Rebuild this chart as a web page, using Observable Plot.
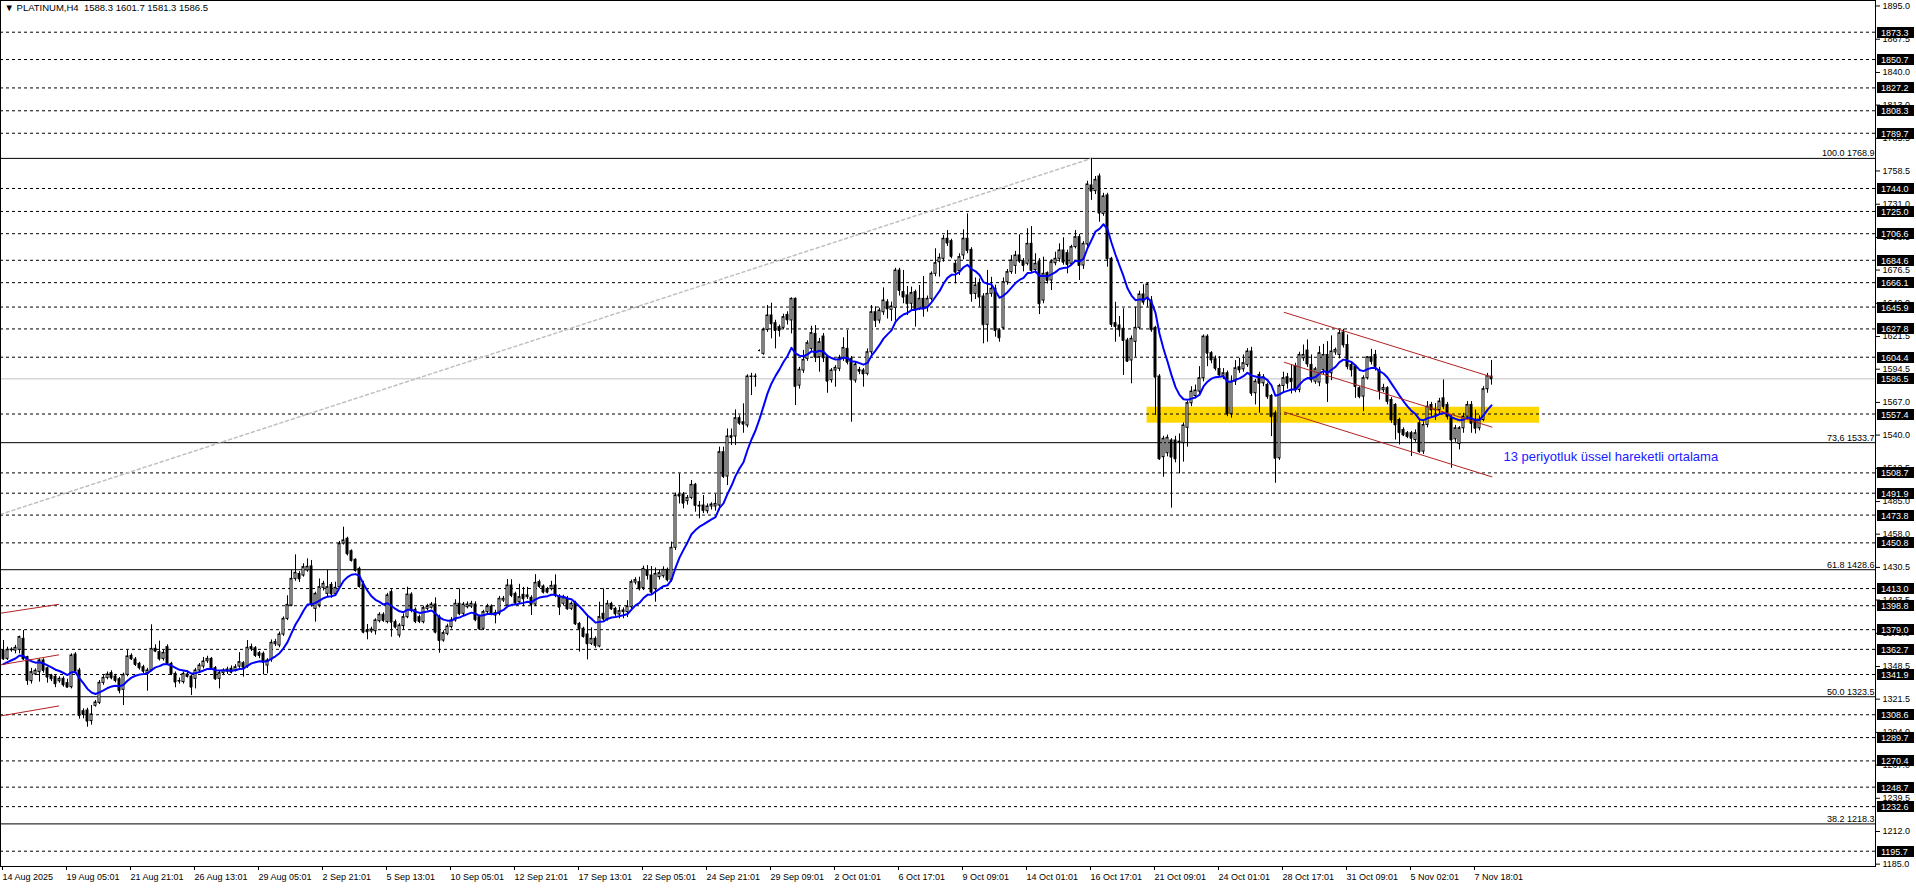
<!DOCTYPE html>
<html><head><meta charset="utf-8">
<script src="https://cdn.jsdelivr.net/npm/d3@7"></script>
<script src="https://cdn.jsdelivr.net/npm/@observablehq/plot@0.6"></script>
<style>
html,body{margin:0;padding:0;background:#fff;overflow:hidden}
#chart svg{display:block}
</style></head><body><div id="chart"></div>
<script>
// ---- data (H4 bars, index 0 = first visible bar) ----
const symbol = "PLATINUM,H4";
const opens = [
1361.7,1354.8,1362.0,1361.7,1362.3,1371.4,1356.2,1336.4,1342.0,1343.8,
1353.5,1347.0,1341.0,1340.0,1336.3,1338.3,1334.7,1331.4,1358.4,1345.2,
1311.5,1312.1,1303.3,1316.0,1318.4,1335.0,1339.1,1343.0,1340.2,1338.0,
1329.2,1341.6,1357.3,1354.3,1350.7,1347.9,1343.0,1345.2,1363.1,1360.4,
1354.8,1364.5,1350.7,1342.4,1336.3,1335.6,1341.9,1340.2,1338.3,1345.2,
1348.5,1352.9,1354.8,1347.1,1338.3,1343.0,1344.3,1346.6,1345.2,1348.5,
1351.2,1348.5,1364.5,1363.6,1359.5,1359.0,1349.3,1354.0,1367.0,1365.9,
1375.0,1387.9,1399.0,1421.0,1425.0,
1423.8,1428.0,1431.3,1396.2,1399.0,1413.6,1408.6,1416.0,1408.6,1414.1,
1450.2,1454.2,1443.9,1436.8,1429.3,1416.4,1378.3,1377.5,1377.7,1386.0,
1391.3,1385.2,1410.0,1385.2,1374.2,1381.9,1389.3,1408.0,1395.4,1389.3,
1385.2,1396.2,1397.1,1399.8,1389.3,1370.0,1375.5,1381.1,1386.6,1400.4,
1392.1,1397.6,1398.1,1399.8,1389.3,1379.7,1393.5,1398.1,1390.7,1392.1,
1403.1,1399.0,1415.5,1408.6,1401.7,1407.8,1405.9,1405.3,1399.8,1418.3,
1414.7,1412.5,1412.5,1415.5,1406.4,1400.4,1404.5,1396.2,1401.0,1383.8,
1379.7,1375.0,1367.3,1371.4,1365.1,
1392.1,1387.9,1400.3,1396.2,1391.5,1393.5,1393.5,1397.6,1418.0,1418.3,
1413.4,1427.9,1423.8,1412.5,1422.4,1423.2,1428.5,1420.2,1446.7,1490.3,
1490.8,1485.3,1488.0,1498.8,1481.0,1481.7,1477.0,1480.9,1480.9,1481.7,
1525.8,1505.7,1539.0,1538.8,1553.9,1550.6,1547.9,1588.0,1588.0,1609.9,
1607.2,1627.0,1638.9,1632.5,1629.2,1628.7,1639.4,1634.8,1652.7,1580.9,
1593.4,1603.0,1611.3,1623.7,1604.4,1621.5,1604.4,1585.4,1593.4,1594.8,
1603.1,1611.3,1603.1,1585.1,1593.9,1593.4,1590.6,1608.5,1641.6,1634.7,
1641.6,1649.9,1643.6,1645.2,1676.1,
1658.2,1655.5,1648.6,1658.2,1644.4,1652.7,1645.8,1652.7,1673.4,1683.0,
1685.8,1702.4,1700.4,1681.7,1675.7,1688.6,1702.4,1693.2,1656.8,1665.7,
1654.6,1631.2,1656.8,1661.0,1626.5,1628.7,1666.5,1674.8,1680.0,1688.6,
1683.9,1681.7,1698.2,1676.6,1683.0,1651.3,1673.9,1667.9,1682.2,1685.8,
1692.7,1690.5,1681.7,1695.5,1703.7,1680.3,1697.7,1746.5,1741.8,1753.9,
1723.0,1738.2,1685.8,1632.6,1630.6,1627.9,1618.2,1601.7,1617.1,1628.7,
1656.3,1653.5,1651.3,1628.7,1588.4,1521.7,1525.0,1535.5,1535.5,1534.0,
1533.3,1546.0,1566.3,1572.3,1576.0,
1587.0,1621.4,1607.7,1602.7,1594.7,1589.1,1591.1,1557.5,1584.2,1596.1,
1594.4,1598.0,1609.1,1574.6,1589.7,1582.8,1581.5,1572.4,1558.0,1520.8,
1580.6,1587.8,1586.5,1597.2,1577.3,1603.5,1609.9,1598.0,1584.2,1583.4,
1593.9,1606.3,1591.1,1608.4,1606.3,1624.8,1614.5,1598.0,1596.6,1578.7,
1571.8,1587.0,1604.3,1606.3,1593.9,1577.1,1578.7,1569.0,1564.9,1552.5,
1544.2,1541.5,1541.5,1535.9,1549.7,1526.3,1548.4,1564.9,1560.7,1560.7,
1570.4,1564.9,1553.9,1536.5,1532.6,1545.6,1555.2,1564.9,1552.5,1545.6,
1552.5,1577.9,1588.3];
const highs = [
1370.0,1364.5,1364.0,1366.0,1373.6,1378.3,1357.0,1347.0,1346.6,1354.8,
1355.0,1348.0,1342.0,1341.0,1340.0,1340.0,1338.0,1359.0,1360.0,1347.0,
1313.5,1314.0,1316.2,1320.4,1336.9,1341.0,1344.0,1345.0,1342.0,1339.5,
1343.0,1361.7,1359.0,1356.0,1352.0,1349.5,1347.0,1383.0,1366.5,1369.5,
1362.0,1366.5,1352.0,1344.0,1339.0,1344.0,1345.0,1341.5,1347.0,1351.0,
1356.0,1357.0,1356.0,1348.5,1345.0,1346.6,1348.0,1349.0,1350.0,1360.0,
1352.5,1370.0,1367.0,1365.0,1361.0,1360.5,1355.0,1370.5,1371.0,1377.0,
1389.5,1407.0,1428.0,1440.9,1427.0,
1433.5,1437.6,1436.2,1410.0,1421.0,1419.0,1428.0,1418.0,1418.3,1452.0,
1463.8,1455.5,1445.0,1437.6,1430.7,1419.0,1383.3,1381.0,1388.0,1393.0,
1393.0,1409.0,1412.0,1387.0,1384.0,1392.0,1414.1,1409.5,1397.0,1391.0,
1398.5,1400.0,1401.5,1405.3,1391.0,1378.0,1383.5,1389.0,1403.7,1412.8,
1401.5,1402.0,1402.5,1402.0,1391.0,1395.0,1400.0,1399.5,1395.0,1406.5,
1406.5,1420.5,1420.3,1410.0,1416.5,1414.0,1414.0,1407.0,1424.5,1420.0,
1416.0,1414.0,1419.0,1424.3,1408.0,1407.5,1406.5,1402.0,1402.5,1385.0,
1381.0,1390.5,1380.5,1373.0,1401.7,
1412.8,1403.0,1401.7,1397.5,1397.6,1397.0,1403.0,1420.0,1422.0,1422.4,
1431.5,1432.0,1431.2,1430.0,1428.0,1431.0,1430.0,1451.5,1492.0,1507.9,
1492.5,1490.0,1502.4,1500.0,1485.0,1490.0,1483.0,1484.0,1490.8,1530.0,
1530.0,1545.0,1545.0,1560.8,1556.0,1565.8,1589.8,1591.1,1590.6,1610.5,
1628.5,1647.2,1649.1,1635.0,1631.0,1640.0,1642.0,1653.5,1653.5,1596.0,
1610.0,1618.0,1630.0,1630.6,1620.0,1624.0,1606.0,1595.0,1597.5,1606.0,
1620.5,1626.5,1605.0,1600.0,1596.0,1595.0,1611.3,1647.2,1646.1,1645.0,
1661.8,1652.0,1650.0,1678.0,1678.0,
1676.2,1662.9,1662.4,1660.0,1663.7,1671.2,1655.0,1675.0,1694.1,1690.0,
1705.1,1709.2,1702.0,1684.0,1690.0,1709.8,1723.0,1695.0,1670.0,1669.2,
1657.0,1676.2,1670.5,1664.0,1628.0,1670.0,1677.0,1688.5,1692.0,1705.7,
1686.0,1710.6,1712.5,1690.0,1686.0,1687.2,1675.0,1685.0,1691.3,1698.2,
1703.2,1693.0,1697.0,1709.2,1706.0,1700.0,1750.0,1768.9,1753.9,1756.0,
1740.0,1740.0,1687.0,1649.9,1638.1,1644.4,1620.0,1622.0,1645.8,1659.0,
1664.3,1665.6,1654.6,1630.0,1590.0,1539.0,1540.0,1537.0,1539.0,1541.0,
1550.0,1568.0,1580.0,1581.4,1596.6,
1622.8,1623.0,1609.0,1605.4,1604.9,1595.0,1593.0,1589.0,1601.6,1603.5,
1606.3,1611.5,1612.6,1586.0,1592.0,1590.0,1583.0,1573.5,1560.0,1582.0,
1592.0,1591.0,1598.0,1599.4,1608.5,1614.5,1618.7,1606.3,1596.0,1613.2,
1615.0,1617.3,1622.0,1612.0,1627.5,1627.5,1622.8,1600.0,1598.0,1580.0,
1589.0,1605.0,1611.0,1610.0,1596.0,1582.0,1580.0,1571.0,1566.0,1554.0,
1546.0,1543.0,1543.0,1544.3,1553.0,1551.0,1567.7,1567.0,1566.0,1570.4,
1585.6,1567.0,1556.0,1548.0,1547.0,1558.0,1567.7,1567.7,1560.7,1556.0,
1580.0,1591.0,1601.7];
const lows = [
1353.5,1353.5,1360.3,1359.0,1359.0,1353.5,1332.9,1334.0,1341.0,1335.6,
1343.0,1334.7,1336.0,1331.0,1334.7,1331.4,1330.9,1330.0,1343.0,1305.0,
1305.2,1298.3,1300.0,1314.9,1317.0,1333.0,1337.5,1337.5,1335.0,1325.9,
1316.2,1340.0,1353.5,1348.5,1345.5,1342.5,1328.1,1344.0,1360.0,1353.0,
1353.0,1349.5,1341.0,1330.9,1334.0,1334.0,1339.0,1324.5,1330.0,1343.0,
1346.5,1351.0,1346.0,1337.0,1330.0,1341.0,1342.0,1342.4,1344.0,1347.0,
1339.7,1347.0,1361.0,1356.0,1355.0,1341.6,1342.5,1352.0,1365.0,1364.0,
1373.5,1386.5,1398.0,1419.0,1418.0,
1422.5,1426.5,1397.6,1385.2,1397.0,1411.0,1406.0,1405.0,1407.3,1412.8,
1449.0,1440.0,1434.9,1426.5,1413.3,1375.5,1370.6,1376.0,1374.5,1384.5,
1385.0,1383.8,1372.8,1379.5,1372.2,1379.0,1388.0,1393.0,1384.0,1384.0,
1383.8,1394.5,1396.0,1375.5,1359.5,1368.6,1374.0,1379.5,1385.2,1390.5,
1390.7,1396.2,1396.5,1385.5,1378.3,1378.3,1391.5,1390.5,1383.8,1390.5,
1401.5,1397.6,1405.5,1399.5,1400.0,1398.0,1404.0,1390.7,1398.1,1413.0,
1408.5,1408.6,1411.0,1405.5,1390.7,1398.5,1395.0,1394.8,1382.4,1360.4,
1372.0,1354.0,1365.9,1363.7,1364.0,
1386.0,1386.0,1394.8,1390.0,1388.0,1388.0,1389.0,1396.0,1416.0,1411.0,
1411.3,1420.0,1408.0,1401.7,1420.0,1421.5,1418.5,1418.3,1444.5,1483.0,
1478.9,1482.0,1486.5,1476.2,1470.7,1475.0,1474.8,1478.0,1477.0,1477.5,
1504.0,1498.2,1531.3,1531.3,1548.0,1541.5,1546.0,1572.7,1579.6,1609.0,
1606.0,1625.0,1619.6,1611.3,1621.0,1627.0,1631.0,1623.7,1564.4,1578.0,
1591.0,1601.0,1609.0,1600.0,1592.0,1600.0,1574.6,1583.0,1579.6,1592.5,
1601.0,1598.0,1550.6,1583.0,1590.0,1579.6,1589.0,1606.5,1629.0,1632.0,
1639.0,1636.0,1634.0,1634.2,1655.0,
1648.6,1638.9,1643.6,1629.3,1643.0,1637.5,1641.7,1651.0,1671.0,1670.7,
1683.0,1696.0,1685.8,1665.1,1672.0,1685.0,1690.0,1649.9,1652.1,1645.8,
1615.5,1616.8,1654.0,1621.0,1616.8,1627.0,1664.0,1673.0,1673.0,1682.0,
1675.0,1680.0,1674.0,1673.5,1639.7,1648.6,1665.0,1659.6,1680.0,1683.0,
1680.5,1673.4,1680.0,1694.0,1667.9,1677.0,1695.5,1734.1,1739.0,1716.1,
1721.0,1678.9,1629.0,1616.8,1621.0,1589.3,1600.0,1582.4,1604.4,1627.0,
1647.5,1645.8,1625.0,1556.2,1519.0,1505.1,1522.0,1479.5,1517.0,1508.0,
1517.6,1530.0,1563.5,1570.0,1574.0,
1584.0,1596.6,1599.0,1593.0,1587.5,1586.0,1555.2,1554.0,1581.0,1591.0,
1592.0,1596.0,1572.0,1564.9,1558.0,1580.0,1569.5,1538.7,1500.1,1519.0,
1575.0,1578.0,1574.0,1575.0,1575.0,1601.0,1596.0,1583.0,1582.0,1580.0,
1590.0,1567.0,1585.0,1606.0,1603.0,1612.0,1594.0,1588.0,1570.4,1570.0,
1559.4,1585.6,1598.0,1593.0,1569.0,1575.0,1565.0,1549.7,1535.9,1531.8,
1538.7,1537.0,1522.2,1534.0,1524.9,1524.0,1546.0,1555.0,1552.0,1557.0,
1561.0,1552.5,1512.5,1534.0,1527.7,1541.5,1553.0,1541.5,1540.9,1543.4,
1551.0,1574.6,1581.3];
const closes = [
1354.8,1362.3,1362.5,1364.0,1372.8,1354.8,1336.9,1343.8,1345.0,1353.5,
1345.2,1339.7,1338.3,1334.2,1338.3,1333.3,1331.4,1357.6,1344.6,1307.9,
1308.8,1303.3,1308.8,1318.7,1335.0,1339.1,1341.9,1339.1,1336.9,1328.6,
1341.6,1356.8,1354.8,1350.2,1347.4,1344.6,1345.2,1363.1,1361.2,1354.8,
1359.8,1350.7,1342.4,1335.6,1336.5,1342.4,1340.2,1331.4,1345.2,1349.3,
1352.6,1354.8,1347.4,1338.3,1343.0,1345.2,1346.0,1343.8,1347.9,1352.1,
1347.9,1364.0,1363.1,1357.6,1357.6,1352.1,1353.5,1368.1,1368.6,1375.0,
1387.9,1399.5,1421.0,1426.0,1421.0,
1430.7,1431.0,1400.4,1408.6,1414.1,1416.9,1414.1,1408.6,1413.6,1450.0,
1452.8,1441.7,1436.2,1428.0,1414.7,1376.9,1377.2,1379.1,1386.6,1391.3,
1386.6,1407.3,1385.2,1381.1,1382.4,1389.3,1408.0,1394.8,1385.8,1385.8,
1396.8,1398.1,1399.8,1376.9,1370.0,1376.1,1381.6,1386.6,1400.4,1392.1,
1399.8,1399.8,1400.4,1387.1,1379.7,1393.5,1398.1,1392.1,1392.6,1404.5,
1404.5,1415.5,1407.3,1401.0,1405.9,1404.5,1407.3,1399.8,1417.7,1414.7,
1410.0,1410.0,1415.2,1407.3,1397.6,1405.3,1396.2,1400.4,1383.8,1379.7,
1373.3,1367.3,1371.4,1365.9,1389.3,
1387.9,1400.3,1396.2,1392.1,1394.3,1394.9,1398.1,1418.3,1420.0,1412.8,
1429.3,1423.8,1410.0,1425.1,1425.7,1428.5,1420.2,1446.7,1490.0,1489.5,
1483.6,1488.0,1498.8,1481.7,1481.5,1477.5,1480.9,1482.5,1483.0,1525.8,
1505.7,1538.8,1538.0,1553.9,1549.8,1549.0,1588.4,1588.4,1588.4,1609.9,
1627.0,1638.9,1632.0,1626.5,1626.5,1637.5,1635.3,1652.7,1580.1,1594.0,
1602.2,1616.0,1624.3,1604.4,1616.8,1603.9,1584.6,1593.4,1595.6,1603.9,
1612.1,1600.3,1585.7,1598.3,1592.8,1590.6,1608.5,1641.6,1634.7,1643.0,
1651.3,1644.4,1646.3,1676.1,1659.6,
1654.1,1648.6,1657.4,1644.4,1652.7,1644.4,1652.7,1673.4,1682.2,1686.6,
1702.4,1698.8,1687.7,1674.8,1687.2,1702.4,1692.7,1656.8,1663.7,1654.1,
1631.2,1656.8,1661.0,1626.5,1620.4,1666.5,1674.8,1684.4,1688.6,1683.9,
1680.3,1698.2,1676.1,1681.7,1648.6,1673.4,1667.9,1683.0,1685.8,1692.7,
1683.0,1681.1,1695.5,1703.7,1680.3,1698.2,1747.3,1741.8,1751.1,1723.6,
1737.4,1685.8,1631.5,1629.8,1627.1,1618.2,1601.1,1619.6,1628.7,1656.3,
1649.9,1664.6,1627.1,1587.9,1520.3,1536.9,1537.7,1521.7,1520.3,1534.5,
1547.9,1566.4,1576.0,1576.8,1587.0,
1621.4,1607.7,1602.1,1595.2,1589.7,1591.1,1557.5,1584.2,1595.2,1593.9,
1599.4,1609.1,1574.6,1584.2,1582.8,1587.8,1571.8,1555.2,1520.8,1580.6,
1587.0,1582.8,1584.2,1577.3,1606.3,1606.3,1598.8,1585.6,1594.4,1607.7,
1606.3,1582.8,1609.1,1610.4,1624.2,1614.5,1596.6,1593.9,1580.1,1571.8,
1587.0,1604.3,1600.8,1596.6,1576.8,1579.0,1567.7,1552.5,1548.4,1542.0,
1540.1,1538.7,1537.3,1541.5,1526.3,1548.4,1563.5,1560.7,1560.9,1567.7,
1563.5,1555.2,1535.9,1545.6,1545.6,1555.2,1564.9,1549.7,1545.6,1552.5,
1577.9,1588.9,1586.5];

// time axis labels and the bars they belong to
const xLabels = ["14 Aug 2025","19 Aug 05:01","21 Aug 21:01","26 Aug 13:01","29 Aug 05:01","2 Sep 21:01","5 Sep 13:01","10 Sep 05:01","12 Sep 21:01","17 Sep 13:01","22 Sep 05:01","24 Sep 21:01","29 Sep 09:01","2 Oct 01:01","6 Oct 17:01","9 Oct 09:01","14 Oct 01:01","16 Oct 17:01","21 Oct 09:01","24 Oct 01:01","28 Oct 17:01","31 Oct 09:01","5 Nov 02:01","7 Nov 18:01"];
const xLabelBars = [0,16,32,48,64,80,96,112,128,144,160,176,192,208,224,240,256,272,288,304,320,336,352,368];

// price axis ticks
const axisTicks = [1895.0,1867.5,1840.0,1813.0,1785.5,1758.5,1731.0,1703.5,1676.5,1649.0,1621.5,1594.5,1567.0,1540.0,1512.5,1485.0,1458.0,1430.5,1403.5,1376.0,1348.5,1321.5,1294.0,1267.0,1239.5,1212.0,1185.0];

// horizontal dashed levels (with black price tags)
const dashedLevels = [1873.3,1850.7,1827.2,1808.3,1789.7,1744.0,1725.0,1706.6,1684.6,1666.1,1645.9,1627.8,1604.4,1557.4,1508.7,1491.9,1473.8,1450.8,1413.0,1398.8,1379.0,1362.7,1341.9,1308.6,1289.7,1270.4,1248.7,1232.6,1195.7];
const currentPrice = 1586.5;

// Fibonacci levels
const fibPercents = ["100.0","73,6","61.8","50.0","38.2"];
const fibPrices = [1768.9,1533.7,1428.6,1323.5,1218.3];
// Fibonacci trend (dotted) end points: bar, price
const fibTrendBars = [-0.75, 272];
const fibTrendPrices = [1474.4, 1768.9];

// support zone rectangle
const zoneBars = [285.9, 384];
const zonePrices = [1549.8, 1563.0];

// red channel lines: start bar, start price, end bar, end price
const channelStartBars = [320.1, 320.1, 320.1, -0.75, -0.75, -0.75];
const channelStartPrices = [1641.6, 1600.3, 1559.1, 1392.6, 1349.9, 1307.6];
const channelEndBars = [372.2, 372.2, 372.2, 13.9, 13.9, 13.9];
const channelEndPrices = [1587.9, 1546.5, 1505.3, 1400.0, 1358.2, 1315.9];

// moving average
const emaPeriod = 13;
const emaSeed = 1350.5;
const noteText = "13 periyotluk üssel hareketli ortalama";
const noteBar = 375;
const notePrice = 1522.3;

// ---- build ----
const bars = opens.map((o, i) => ({i, o, h: highs[i], l: lows[i], c: closes[i], up: closes[i] >= o}));
const alpha = 2 / (emaPeriod + 1);
let prevEma = emaSeed;
const ema = closes.map((c, i) => { prevEma = i === 0 ? emaSeed : prevEma + alpha * (c - prevEma); return {i, v: prevEma}; });
const fibs = fibPrices.map((p, k) => ({p, label: fibPercents[k] + " " + p.toFixed(1)}));
const fibTrend = fibTrendBars.map((b, k) => ({i: b, p: fibTrendPrices[k]}));
const zone = [{x1: zoneBars[0], x2: zoneBars[1], y1: zonePrices[0], y2: zonePrices[1]}];
const channels = channelStartBars.map((b, k) => ({x1: b, y1: channelStartPrices[k], x2: channelEndBars[k], y2: channelEndPrices[k]}));
const tags = dashedLevels.concat([currentPrice]);
const last = bars.length - 1;
const nb = "\u00a0";
const titleText = "\u25bc" + nb + symbol + nb + nb + [opens[last], highs[last], lows[last], closes[last]].map(v => v.toFixed(1)).join(nb);

const W = 1916, H = 888, plotRight = 1875, plotBottom = 866;
const FONT = "'Liberation Sans', Arial, sans-serif";

const plot = Plot.plot({
  width: W, height: H,
  marginLeft: 0, marginRight: W - plotRight, marginTop: 0, marginBottom: H - plotBottom,
  style: {fontFamily: FONT, fontSize: "9px", background: "#fff", color: "#000", overflow: "visible"},
  x: {type: "linear", domain: [-0.75, 468], axis: null},
  y: {type: "linear", domain: [1183.05, 1899.53], axis: null},
  marks: [
    Plot.rect(zone, {x1: "x1", x2: "x2", y1: "y1", y2: "y2", fill: "#ffd700"}),
    Plot.ruleY(dashedLevels, {stroke: "#000", strokeDasharray: "3,3"}),
    Plot.ruleY([currentPrice], {stroke: "#c0c0c0"}),
    Plot.ruleY(fibs, {y: "p", stroke: "#000"}),
    Plot.text(fibs, {y: "p", text: "label", frameAnchor: "right", textAnchor: "end", lineAnchor: "bottom", dx: -1, dy: -2, fill: "#000"}),
    Plot.line(fibTrend, {x: "i", y: "p", stroke: "#c0c0c0", strokeDasharray: "3,3"}),
    Plot.ruleX(bars, {x: "i", y1: "l", y2: "h", stroke: "#000"}),
    Plot.rect(bars, {x1: d => d.i - 0.25, x2: d => d.i + 0.25, y1: "o", y2: "c", fill: d => d.up ? "#fff" : "#000", stroke: "#000"}),
    Plot.ruleY(bars, {y: "c", x1: d => d.i - 0.25, x2: d => d.i + 0.25, stroke: "#000"}),
    Plot.line(ema, {x: "i", y: "v", stroke: "#0000ff", strokeWidth: 2}),
    Plot.link(channels, {x1: "x1", y1: "y1", x2: "x2", y2: "y2", stroke: "#b22222"}),
    Plot.frame({stroke: "#000"}),
    Plot.axisY(axisTicks, {anchor: "right", tickSize: 4, tickPadding: 3, tickFormat: d => d.toFixed(1), label: null}),
    Plot.axisX(xLabelBars, {anchor: "bottom", tickSize: 4, tickPadding: 3, tickFormat: d => xLabels[xLabelBars.indexOf(d)], textAnchor: "start", dx: -1, label: null}),
    Plot.text([titleText], {frameAnchor: "top-left", dx: 4, dy: 4, lineAnchor: "top", textAnchor: "start", fill: "#000", fontSize: 9.5}),
    Plot.text([{i: noteBar, p: notePrice, t: noteText}], {x: "i", y: "p", text: "t", textAnchor: "start", fill: "#1a1aff", fontSize: 13})
  ]
});

// black price tags on the right axis, positioned with the plot's own y scale
const yScale = plot.scale("y");
const tagLayer = d3.select(plot).append("g")
  .attr("font-family", FONT).attr("font-size", 9).attr("text-anchor", "start");
for (const v of tags) {
  const y = Math.round(yScale.apply(v));
  tagLayer.append("rect")
    .attr("x", plotRight + 2).attr("y", y - 5).attr("width", 37).attr("height", 11)
    .attr("fill", "#000");
  tagLayer.append("text")
    .attr("x", plotRight + 6).attr("y", y + 0.5).attr("dy", "0.35em")
    .attr("text-anchor", "start")
    .attr("fill", "#fff").text(v.toFixed(1));
}
document.getElementById("chart").appendChild(plot);
</script></body></html>
